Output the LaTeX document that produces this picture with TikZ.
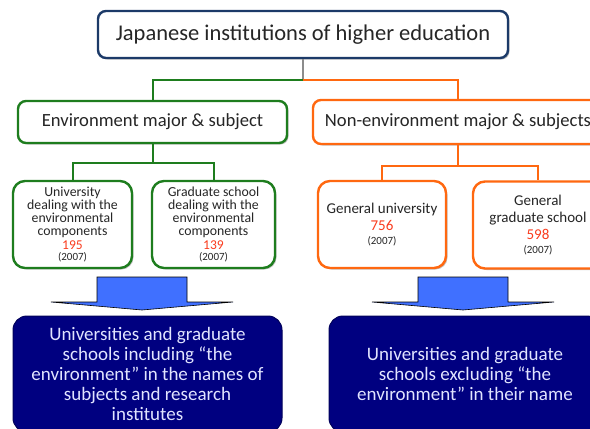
\documentclass[tikz,border=0pt]{standalone}
\usepackage{fontspec}
\setmainfont{Carlito}
\usepackage{tikz}
\usetikzlibrary{shadows}

\definecolor{topline}{RGB}{28,58,104}
\definecolor{envgreen}{RGB}{30,125,30}
\definecolor{othorange}{RGB}{255,104,16}
\definecolor{numred}{RGB}{250,60,30}
\definecolor{arrowblue}{RGB}{64,112,255}
\definecolor{listblue}{RGB}{0,0,128}
\definecolor{listtext}{RGB}{225,228,255}

\tikzset{
	box/.style = {rounded corners=8pt, fill=white, line width=2.4pt, inner sep=0pt,
		align=center, text=black!85,
		drop shadow={shadow xshift=1.5pt, shadow yshift=-1.5pt, fill=black!40, opacity=.6}},
	topbox/.style = {box, draw=topline, font=\fontsize{22.5}{24}\selectfont},
	midbox/.style = {box, font=\fontsize{18.6}{22}\selectfont},
	subbox/.style = {box, rounded corners=12pt, minimum height=87pt},
	listbox/.style = {rounded corners=14pt, fill=listblue, draw=listblue!70!black, line width=1pt,
		text=listtext, align=center, inner sep=0pt, minimum height=116pt,
		font=\fontsize{19}{20}\selectfont},
}

\begin{document}
\begin{tikzpicture}[x=1pt, y=-1pt]
\useasboundingbox (0,0) rectangle (590,429);
\clip (0,0) rectangle (590,429);

\node[topbox, minimum width=410pt, minimum height=47pt] (top) at (303,34.5)
	{Japanese institutions of higher education};

\node[midbox, draw=envgreen, minimum width=269pt, minimum height=42pt] (env) at (152.5,122)
	{Environment major \& subject};
\node[midbox, draw=othorange, minimum width=290pt, minimum height=44pt] (nonenv) at (458,122)
	{Non-environment major \& subjects};

% green side
\node[subbox, draw=envgreen, minimum width=119pt, font=\fontsize{13.8}{13.2}\selectfont] (envuni) at (72.5,224.5)
	{University\\dealing with the\\environmental\\components\\[0pt]
	 {\color{numred}\fontsize{13.5}{12}\selectfont 195}\\[-1.5pt] {\fontsize{11}{10}\selectfont (2007)}};
\node[subbox, draw=envgreen, minimum width=123pt, font=\fontsize{13.8}{13.2}\selectfont] (envgrad) at (213.5,224.5)
	{Graduate school\\dealing with the\\environmental\\components\\[0pt]
	 {\color{numred}\fontsize{13.5}{12}\selectfont 139}\\[-1.5pt] {\fontsize{11}{10}\selectfont (2007)}};

% orange side
\node[subbox, draw=othorange, minimum width=128pt, font=\fontsize{15}{17}\selectfont] (genuni) at (382,224.5)
	{General university\\
	 {\color{numred}756}\\[-3.5pt] {\fontsize{11}{12}\selectfont (2007)}};
\node[subbox, draw=othorange, minimum width=130pt, font=\fontsize{15}{17.5}\selectfont] (gengrad) at (538,225)
	{General\\graduate school\\[-0.5pt]
	 {\color{numred}598}\\[-3.5pt] {\fontsize{11}{12}\selectfont (2007)}};

% connectors
\draw[black!45, line width=2pt] (top.south) -- ++(0,21) coordinate (fork);
\draw[envgreen, line width=2pt] (fork) -| (env.north);
\draw[othorange, line width=2pt] (fork) -| (nonenv.north);
\draw[envgreen, line width=2pt] (env.south) -- ++(0,19) coordinate (envfork);
\draw[envgreen, line width=2pt] (envfork) -| (envuni.north);
\draw[envgreen, line width=2pt] (envfork) -| (envgrad.north);
\draw[othorange, line width=2pt] (nonenv.south) -- ++(0,21) coordinate (othfork);
\draw[othorange, line width=2pt] (othfork) -| (genuni.north);
\draw[othorange, line width=2pt] (othfork) -| (gengrad.north);

% block arrows
\foreach \cx in {142,463}
	\draw[fill=arrowblue, line width=.6pt, line join=miter]
		(\cx-45,277) -- (\cx+45,277) -- (\cx+45,302) -- (\cx+91,302) -- (\cx,310)
		-- (\cx-91,302) -- (\cx-45,302) -- cycle;

\node[listbox, minimum width=269pt] (envlist) at (147.5,374)
	{Universities and graduate\\schools including ``the\\environment'' in the names of\\subjects and research\\institutes};
\node[listbox, minimum width=272pt] (othlist) at (465,374)
	{Universities and graduate\\schools excluding ``the\\environment'' in their name};
\end{tikzpicture}
\end{document}
